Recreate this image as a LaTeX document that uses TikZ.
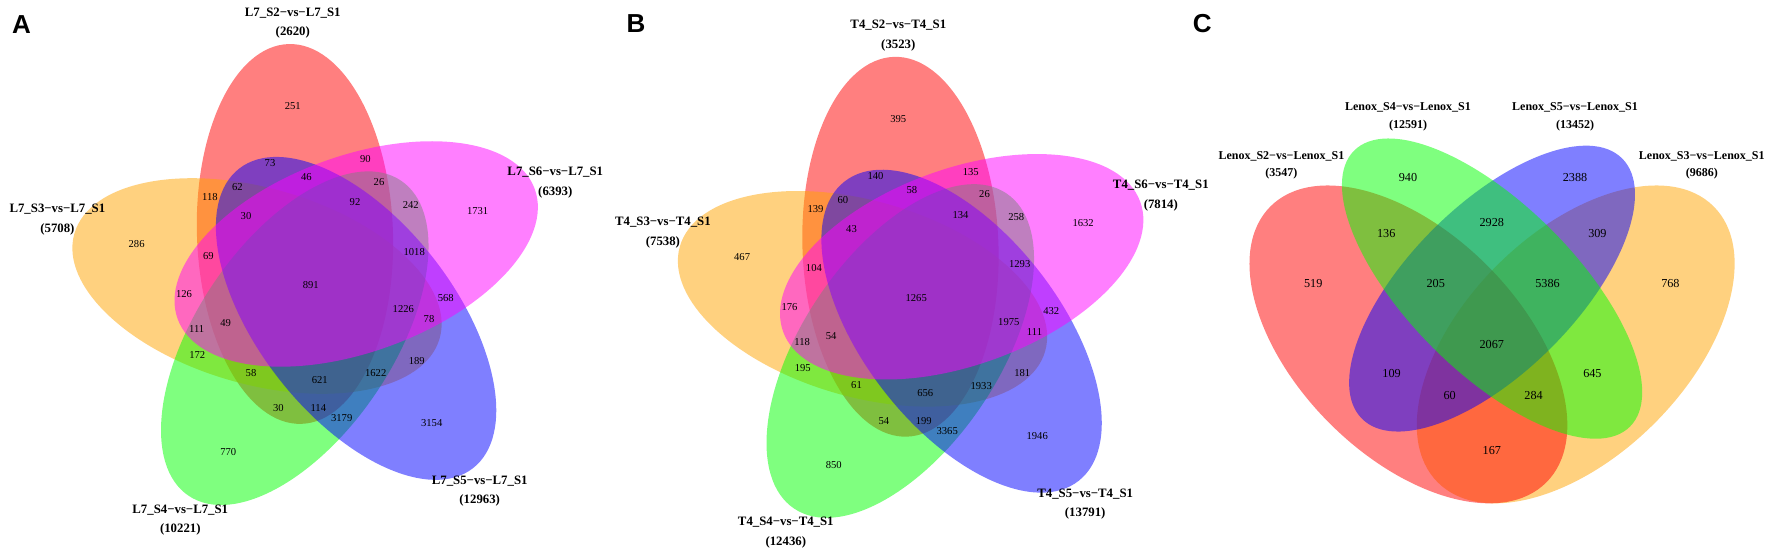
\documentclass[tikz,border=0pt]{standalone}
\usepackage{fontspec}
\setmainfont{Liberation Serif}
\newfontfamily\panelfont{Liberation Sans}

\definecolor{vred}{RGB}{255,0,0}
\definecolor{vorange}{RGB}{255,165,0}
\definecolor{vgreen}{RGB}{0,255,0}
\definecolor{vblue}{RGB}{0,0,255}
\definecolor{vmagenta}{RGB}{255,0,255}

\tikzset{
    setfill/.style={fill=#1, fill opacity=0.5},
    setname/.style={align=center, inner sep=0pt, font=\bfseries\fontsize{12.8}{19.4}\selectfont},
    csetname/.style={align=center, inner sep=0pt, font=\bfseries\fontsize{12}{17.4}\selectfont},
    count/.style={inner sep=0pt, font=\fontsize{10.6}{12}\selectfont},
    ccount/.style={inner sep=0pt, font=\fontsize{12.2}{14}\selectfont},
    panel/.style={inner sep=0pt, font=\panelfont\bfseries\fontsize{26}{26}\selectfont}
}

\begin{document}
\begin{tikzpicture}[x=1pt,y=1pt]
    \fill[white] (0,-559) rectangle (1772,0);
    \useasboundingbox (0,-559) rectangle (1772,0);

    % x/y/count in A/count in B
    \def\quintregions{292.8/106/251/395, 270/163.3/73/140, 365.3/159.3/90/135,
        306.3/177.5/46/58, 237.3/187.3/62/60, 379/181.7/26/26, 210/196.7/118/139,
        355/202/92/134, 410.8/204.7/242/258, 477.6/210.7/1731/1632, 246/216/30/43,
        136.6/244.3/286/467, 208.4/255.7/69/104, 414.2/251.7/1018/1293,
        310.7/285.5/891/1265, 184/294/126/176, 445.7/298.3/568/432,
        403.3/309/1226/1975, 429/319/78/111, 196.7/329.3/111/118, 225.7/323.3/49/54,
        197.3/355/172/195, 416.7/360.7/189/181, 251/372.7/58/61, 375.7/373.3/1622/1933,
        319.7/380/621/656, 278.3/408.3/30/54, 318.3/408.3/114/199,
        341.7/418.3/3179/3365, 431.7/423.3/3154/1946, 228.3/452.3/770/850}
    \def\quadregions{1408/177.7/940, 1575/177.7/2388, 1491.8/222.3/2928,
        1386.2/233.3/136, 1597.4/233.3/309, 1313.2/284/519, 1435.7/284/205,
        1547.5/284/5386, 1670.4/284/768, 1491.8/345/2067, 1391.6/373.3/109,
        1592.4/373.3/645, 1449.6/395.3/60, 1533.6/395.3/284, 1491.8/451/167}

    % A and B: five ellipses, each turned 72 degrees from the last
    \coordinate (cA) at (311.8,-286.1);
    \coordinate (cB) at (917.3,-298.9);
    \foreach \c in {cA,cB}
        \foreach \col/\off in {vred/0,vorange/72,vgreen/144,vblue/216,vmagenta/288}
            \fill[setfill=\col, shift={(\c)}, shift={(107.9+\off:54.8)}, rotate=92+\off]
                (0,0) ellipse [x radius=190, y radius=98];

    % C: four ellipses
    \foreach \col/\x/\y/\a/\b/\r in {vorange/1575.7/-344.4/195.1/111.5/45,
        vred/1408.4/-344.4/195.1/111.5/-45, vblue/1492.05/-288.6/184/83.6/45,
        vgreen/1492.05/-288.6/195.1/83.6/-45}
        \fill[setfill=\col, shift={(\x,\y)}, rotate=\r] (0,0) ellipse [x radius=\a, y radius=\b];

    \node[panel] (lblA) at (21.4,-24.2) {A};
    \node[panel] (lblB) at (635.9,-24) {B};
    \node[panel] (lblC) at (1202.2,-24) {C};

    % set names, B sits 605.5 right and 12.8 down of A
    \foreach \x/\y/\s/\na/\nb [count=\i] in {292.8/23/S2/2620/3523, 57.4/219.7/S3/5708/7538,
        555.3/182.7/S6/6393/7814, 180.3/520/S4/10221/12436, 479.7/491.2/S5/12963/13791} {
        \node[setname] (sa\i) at (\x,-\y) {L7\_\s−vs−L7\_S1\\(\na)};
        \node[setname] (sb\i) at ([shift={(605.5,-12.8)}]\x,-\y) {T4\_\s−vs−T4\_S1\\(\nb)};
    }
    \foreach \x/\y/\s/\n [count=\i] in {1281.4/165.5/S2/3547, 1408/117/S4/12591,
        1575/117/S5/13452, 1701.8/165.5/S3/9686}
        \node[csetname] (sc\i) at (\x,-\y) {Lenox\_\s−vs−Lenox\_S1\\(\n)};

    \foreach \x/\y/\na/\nb [count=\i] in \quintregions {
        \node[count] (a\i) at (\x,-\y) {\na};
        \node[count] (b\i) at ([shift={(605.5,-12.8)}]\x,-\y) {\nb};
    }
    \foreach \x/\y/\n [count=\i] in \quadregions
        \node[ccount] (c\i) at (\x,-\y) {\n};
\end{tikzpicture}
\end{document}
